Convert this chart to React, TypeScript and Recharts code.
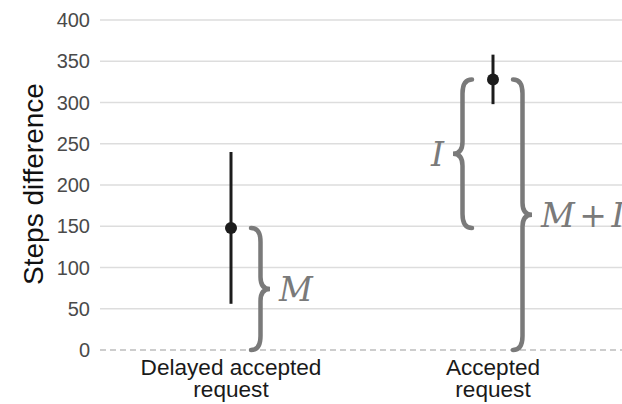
import React from 'react';
import {
  ComposedChart, Scatter, ErrorBar,
  XAxis, YAxis, CartesianGrid, ReferenceLine,
} from 'recharts';

const categories = ['Delayed accepted\nrequest', 'Accepted\nrequest'];
const means = [148, 328];
const errors = [92, 30];
const yTicks = [0, 50, 100, 150, 200, 250, 300, 350, 400];
const gridValues = [50, 100, 150, 200, 250, 300, 350, 400];

const data = categories.map((name, i) => ({ name, mean: means[i], err: errors[i] }));

const INK = '#1c1c1c';
const BRACE = '#7a7a7a';

// curly brace drawn between the two end points a ReferenceLine segment gets from the scales
const makeBrace = (label: string, dir: number, gap: number) => (props: any) => {
  const { x1, y1, y2 } = props;
  const top = Math.min(y1, y2);
  const bot = Math.max(y1, y2);
  const mid = (top + bot) / 2;
  const x0 = x1 + dir * gap;
  const xv = x0 + dir * 9.5;
  const xt = x0 + dir * 19;
  const r = 14;
  const rm = 12;
  const d = [
    `M ${x0} ${top}`,
    `Q ${xv} ${top} ${xv} ${top + r}`,
    `L ${xv} ${mid - rm}`,
    `Q ${xv} ${mid} ${xt} ${mid}`,
    `Q ${xv} ${mid} ${xv} ${mid + rm}`,
    `L ${xv} ${bot - r}`,
    `Q ${xv} ${bot} ${x0} ${bot}`,
  ].join(' ');
  return (
    <g>
      <path d={d} fill="none" stroke={BRACE} strokeWidth={4.5} strokeLinecap="round" />
      <text
        x={xt + dir * 9}
        y={mid + 12}
        textAnchor={dir > 0 ? 'start' : 'end'}
        fontFamily="'DejaVu Serif', serif"
        fontStyle="italic"
        fontSize={33}
        wordSpacing={-6}
        fill={BRACE}
      >
        {label}
      </text>
    </g>
  );
};

const CategoryTick = ({ x, y, payload }: any) => {
  const lines = String(payload.value).split('\n');
  return (
    <text x={x} y={y} textAnchor="middle" fontFamily="'Liberation Sans', Arial, sans-serif" fontSize={22.6} fill="#1a1a1a">
      {lines.map((line, i) => (
        <tspan key={i} x={x} dy={i === 0 ? 17 : 22}>{line}</tspan>
      ))}
    </text>
  );
};

const YLabel = ({ viewBox }: any) => (
  <text
    transform={`translate(43, ${viewBox.y + viewBox.height / 2 - 1}) rotate(-90)`}
    textAnchor="middle"
    fontFamily="'Liberation Sans', Arial, sans-serif"
    fontSize={28}
    fill="#111"
  >
    Steps difference
  </text>
);

const Dot = (p: any) => <circle cx={p.cx} cy={p.cy} r={6} fill={INK} />;

export default function App() {
  return (
    <div style={{ position: 'absolute', left: 0, top: 0, width: 622, height: 404, overflow: 'hidden', background: '#fff' }}>
      <ComposedChart width={624} height={404} data={data} margin={{ top: 20, right: 0, left: 0, bottom: 0 }}>
        <CartesianGrid vertical={false} horizontalValues={gridValues} stroke="#dddddd" strokeWidth={1.5} />
        <ReferenceLine y={0} stroke="#bdbdbd" strokeWidth={1.5} strokeDasharray="6 4" />
        <XAxis
          dataKey="name"
          type="category"
          scale="band"
          axisLine={false}
          tickLine={false}
          height={54}
          interval={0}
          tick={<CategoryTick />}
        />
        <YAxis
          type="number"
          domain={[0, 400]}
          ticks={yTicks}
          width={100}
          axisLine={false}
          tickLine={false}
          tickMargin={4}
          tick={{ fontSize: 20, fill: '#4a4a4a', fontFamily: "'Liberation Sans', Arial, sans-serif" }}
          label={{ content: <YLabel /> }}
        />
        <ReferenceLine
          segment={[{ x: categories[0], y: 0 }, { x: categories[0], y: means[0] }]}
          shape={makeBrace('M', 1, 20)}
        />
        <ReferenceLine
          segment={[{ x: categories[1], y: means[0] }, { x: categories[1], y: means[1] }]}
          shape={makeBrace('I', -1, 21)}
        />
        <ReferenceLine
          segment={[{ x: categories[1], y: 0 }, { x: categories[1], y: means[1] }]}
          shape={makeBrace('M + I', 1, 20)}
        />
        <Scatter dataKey="mean" shape={Dot} isAnimationActive={false}>
          <ErrorBar dataKey="err" direction="y" width={0} stroke={INK} strokeWidth={3} isAnimationActive={false} />
        </Scatter>
      </ComposedChart>
    </div>
  );
}
